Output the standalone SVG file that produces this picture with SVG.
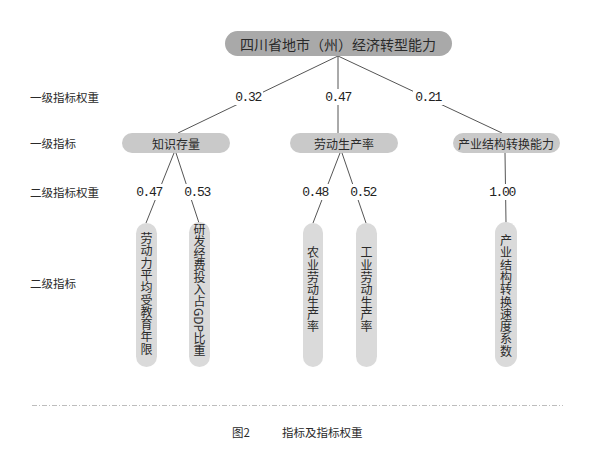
<svg xmlns="http://www.w3.org/2000/svg" width="595" height="463" viewBox="0 0 595 463">
<style>
.cjk{font-family:"Noto Sans CJK SC","Noto Sans CJK JP",sans-serif;fill:#2a2a2a}
.side{font-size:11.5px;dominant-baseline:central}
.l1{font-size:12px;text-anchor:middle;dominant-baseline:central}
.vt{font-size:12px;writing-mode:vertical-rl;text-anchor:middle;letter-spacing:0.3px}
.num{font-family:"Liberation Mono",monospace;font-size:13px;letter-spacing:-1.4px;text-anchor:middle;dominant-baseline:central;fill:#222}
.ln{stroke:#555;stroke-width:1;fill:none}
.root{fill:#a9a9a9}
.n1{fill:#c9c9c9}
.leaf{fill:#dadada}
.lbg{fill:#fff}
</style>
<rect width="595" height="463" fill="#fff"/>
<g id="connectors">
<path class="ln" d="M338,56 L178,133"/>
<path class="ln" d="M338,56 L338,133"/>
<path class="ln" d="M338,56 L502,133"/>
<path class="ln" d="M174,153 L146,223"/>
<path class="ln" d="M176,153 L199,223"/>
<path class="ln" d="M340,153 L313,223"/>
<path class="ln" d="M342,153 L366,223"/>
<path class="ln" d="M505,153 L506,223"/>
<rect class="lbg" x="233" y="89" width="30" height="16"/>
<text class="num" x="248" y="97">0.32</text>
<rect class="lbg" x="323" y="89" width="30" height="16"/>
<text class="num" x="338" y="97">0.47</text>
<rect class="lbg" x="413" y="89" width="30" height="16"/>
<text class="num" x="428" y="97">0.21</text>
<rect class="lbg" x="134" y="184" width="30" height="16"/>
<text class="num" x="149" y="192">0.47</text>
<rect class="lbg" x="182" y="184" width="30" height="16"/>
<text class="num" x="197" y="192">0.53</text>
<rect class="lbg" x="300" y="184" width="30" height="16"/>
<text class="num" x="315" y="192">0.48</text>
<rect class="lbg" x="348" y="184" width="30" height="16"/>
<text class="num" x="363" y="192">0.52</text>
<rect class="lbg" x="487" y="184" width="30" height="16"/>
<text class="num" x="502" y="192">1.00</text>
</g>
<g id="side-labels">
<text class="cjk side" x="30" y="97">一级指标权重</text>
<text class="cjk side" x="30" y="143">一级指标</text>
<text class="cjk side" x="30" y="192">二级指标权重</text>
<text class="cjk side" x="30" y="283">二级指标</text>
</g>
<g id="root">
<rect class="root" x="225" y="31" width="227" height="25" rx="12.5"/>
<text class="cjk l1" x="338" y="43.5" style="font-size:14px">四川省地市（州）经济转型能力</text>
</g>
<g id="n-zhishi">
<rect class="n1" x="122" y="133" width="108" height="20" rx="10"/>
<text class="cjk l1" x="176" y="143">知识存量</text>
</g>
<g id="n-laodong">
<rect class="n1" x="290" y="133" width="108" height="20" rx="10"/>
<text class="cjk l1" x="344" y="143">劳动生产率</text>
</g>
<g id="n-chanye">
<rect class="n1" x="453" y="133" width="107" height="20" rx="10"/>
<text class="cjk l1" x="506" y="143">产业结构转换能力</text>
</g>
<g id="leaf1">
<rect class="leaf" x="136" y="223" width="21" height="144" rx="10.5"/>
<text class="cjk vt" x="146.5" y="294">劳动力平均受教育年限</text>
</g>
<g id="leaf2">
<rect class="leaf" x="189" y="222" width="21" height="145" rx="10.5"/>
<text class="cjk vt" x="199.5" y="290" style="letter-spacing:0">研发经费投入占GDP比重</text>
</g>
<g id="leaf3">
<rect class="leaf" x="303" y="223" width="20" height="144" rx="10"/>
<text class="cjk vt" x="313" y="290">农业劳动生产率</text>
</g>
<g id="leaf4">
<rect class="leaf" x="356" y="223" width="21" height="144" rx="10.5"/>
<text class="cjk vt" x="366.5" y="290">工业劳动生产率</text>
</g>
<g id="leaf5">
<rect class="leaf" x="495" y="222" width="22" height="145" rx="11"/>
<text class="cjk vt" x="506" y="296">产业结构转换速度系数</text>
</g>
<g id="caption">
<path d="M32,405.5 L563,405.5" stroke="#bdbdbd" stroke-width="1" stroke-dasharray="5 2 1 2"/>
<text class="cjk side" x="232" y="432">图2</text>
<text class="cjk side" x="282" y="432">指标及指标权重</text>
</g>
</svg>
